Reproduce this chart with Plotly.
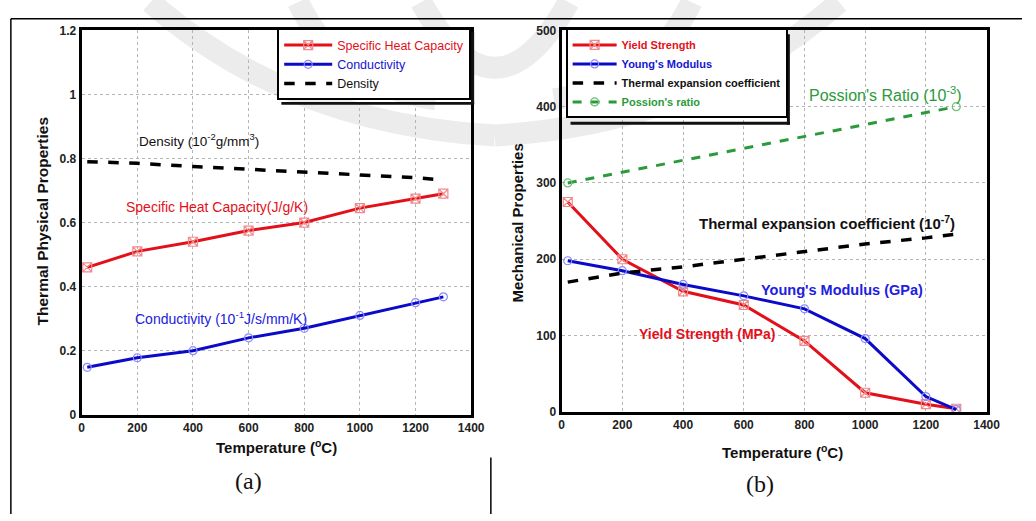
import plotly.graph_objects as go

W, H = 1036, 521

# ---- data (a) ----
temp_a = [20, 200, 400, 600, 800, 1000, 1200, 1300]
heat_capacity = [0.46, 0.51, 0.54, 0.575, 0.60, 0.645, 0.675, 0.69]
conductivity = [0.148, 0.178, 0.20, 0.24, 0.27, 0.31, 0.35, 0.368]
density = [0.79, 0.785, 0.775, 0.766, 0.758, 0.75, 0.74, 0.733]

# ---- data (b) ----
temp_b = [20, 200, 400, 600, 800, 1000, 1200, 1300]
yield_strength = [275, 200, 158, 140, 93, 25, 10, 4]
youngs_modulus = [198, 185, 167, 152, 135, 96, 20, 3]
thermal_exp = [170, 182, 190, 200, 210, 220, 228, 233]
poisson_temp = [20, 1300]
poisson_ratio = [300, 400]

x_ticks = [0, 200, 400, 600, 800, 1000, 1200, 1400]

RED = "#e3101a"
BLUE = "#0a0ac8"
GREEN = "#2a9a3a"
FONT = "Liberation Sans, Arial"


def px(x):
    return x / W


def py(y):
    return 1 - y / H


fig = go.Figure()

# (a)
fig.add_trace(go.Scatter(x=temp_a, y=heat_capacity, mode="lines+markers",
                         name="<span style='color:#e3101a'>Specific Heat Capacity</span>",
                         line=dict(color=RED, width=3),
                         marker=dict(symbol="square-x-open", size=9, color="#f28a8a", line=dict(width=1.2)),
                         xaxis="x", yaxis="y", legend="legend"))
fig.add_trace(go.Scatter(x=temp_a, y=conductivity, mode="lines+markers",
                         name="<span style='color:#1515d0'>Conductivity</span>",
                         line=dict(color=BLUE, width=3),
                         marker=dict(symbol="circle-open", size=8, color="#8a8aff", line=dict(width=1.2)),
                         xaxis="x", yaxis="y", legend="legend"))
fig.add_trace(go.Scatter(x=temp_a, y=density, mode="lines",
                         name="<span style='color:#111'>Density</span>",
                         line=dict(color="black", width=3.5, dash="dash"),
                         xaxis="x", yaxis="y", legend="legend"))

# (b)
fig.add_trace(go.Scatter(x=temp_b, y=yield_strength, mode="lines+markers",
                         name="<span style='color:#e3101a'><b>Yield Strength</b></span>",
                         line=dict(color=RED, width=3),
                         marker=dict(symbol="square-x-open", size=9, color="#f28a8a", line=dict(width=1.2)),
                         xaxis="x2", yaxis="y2", legend="legend2"))
fig.add_trace(go.Scatter(x=temp_b, y=youngs_modulus, mode="lines+markers",
                         name="<span style='color:#1515d0'><b>Young's Modulus</b></span>",
                         line=dict(color=BLUE, width=3),
                         marker=dict(symbol="circle-open", size=8, color="#8a8aff", line=dict(width=1.2)),
                         xaxis="x2", yaxis="y2", legend="legend2"))
fig.add_trace(go.Scatter(x=temp_b, y=thermal_exp, mode="lines",
                         name="<span style='color:#111'><b>Thermal expansion coefficient</b></span>",
                         line=dict(color="black", width=3.5, dash="dash"),
                         xaxis="x2", yaxis="y2", legend="legend2"))
fig.add_trace(go.Scatter(x=poisson_temp, y=poisson_ratio, mode="lines+markers",
                         name="<span style='color:#2a9a3a'><b>Possion's ratio</b></span>",
                         line=dict(color=GREEN, width=3, dash="dash"),
                         marker=dict(symbol="circle-open", size=8, color="#6cc07a", line=dict(width=1.2)),
                         xaxis="x2", yaxis="y2", legend="legend2"))

axis_common = dict(showline=True, linecolor="black", linewidth=3, mirror=True,
                   showgrid=True, gridcolor="#b5b5b5", griddash="dot", gridwidth=1,
                   zeroline=False, ticks="",
                   tickfont=dict(family=FONT, size=12, color="#222", weight="bold"))

fig.update_layout(
    width=W, height=H, margin=dict(l=0, r=0, t=0, b=0),
    paper_bgcolor="white", plot_bgcolor="white",
    font=dict(family=FONT, color="#222"),
    xaxis=dict(domain=[px(80), px(476)], range=[0, 1400], tickvals=x_ticks, anchor="y", **axis_common),
    yaxis=dict(domain=[py(419), py(24)], range=[0, 1.2], dtick=0.2, anchor="x", **axis_common),
    xaxis2=dict(domain=[px(568), px(1000)], range=[0, 1400], tickvals=x_ticks, anchor="y2", **axis_common),
    yaxis2=dict(domain=[py(416), py(24)], range=[0, 500], dtick=100, anchor="x2", **axis_common),
    legend=dict(x=px(476), y=py(22), xanchor="right", yanchor="top",
                bgcolor="white", bordercolor="black", borderwidth=2,
                font=dict(family=FONT, size=12.5), tracegroupgap=0, itemwidth=48,
                traceorder="normal"),
    legend2=dict(x=px(572), y=py(22), xanchor="left", yanchor="top",
                 bgcolor="white", bordercolor="black", borderwidth=2,
                 font=dict(family=FONT, size=11), tracegroupgap=0, itemwidth=44,
                 traceorder="normal"),
    showlegend=True,
)

ann = []


def add_text(x, y, text, size=12, color="#111", angle=0, family=FONT, xanchor="center"):
    ann.append(dict(x=px(x), y=py(y), xref="paper", yref="paper", text=text, showarrow=False,
                    font=dict(family=family, size=size, color=color), textangle=angle,
                    xanchor=xanchor, yanchor="middle"))


add_text(199, 137, "Density (10<sup>-2</sup>g/mm<sup>3</sup>)", 13.5)
add_text(218, 206, "Specific Heat Capacity(J/g/K)", 14, RED)
add_text(222, 320, "Conductivity (10<sup>-1</sup>J/s/mm/K)", 14, "#2020e0")
add_text(40, 220, "<b>Thermal Physical Properties</b>", 15.5, angle=-90)
add_text(278, 452, "<b>Temperature (<sup>o</sup>C)</b>", 15)
add_text(250, 487, "(a)", 24, "#111", family="Liberation Serif, DejaVu Serif")

add_text(897, 89, "Possion's Ratio (10<sup>-3</sup>)", 16, GREEN)
add_text(838, 221, "<b>Thermal expansion coefficient (10<sup>-7</sup>)</b>", 15)
add_text(853, 291, "<b>Young's Modulus (GPa)</b>", 14.5, "#2020e0")
add_text(716, 336, "<b>Yield Strength (MPa)</b>", 14, RED)
add_text(523, 222, "<b>Mechanical Properties</b>", 15, angle=-90)
add_text(792, 457, "<b>Temperature (<sup>o</sup>C)</b>", 15)
add_text(770, 490, "(b)", 24, "#111", family="Liberation Serif, DejaVu Serif")

fig.update_layout(annotations=ann)

shapes = []
# watermark (light gray logo arcs)
wm = dict(type="path", xref="paper", yref="paper", layer="below",
          line=dict(color="#ececec", width=22))


def q(x0, y0, cx, cy, x1, y1):
    return "M {} {} Q {} {} {} {}".format(px(x0), py(y0), px(cx), py(cy), px(x1), py(y1))


for path in [
    q(150, -5, 290, 120, 500, 132), q(850, -5, 710, 120, 500, 132),
    q(300, -5, 340, 80, 440, 95), q(700, -5, 660, 80, 560, 95),
    q(425, -5, 500, 130, 575, -5),
]:
    shapes.append(dict(wm, path=path))

line = dict(type="line", xref="paper", yref="paper", line=dict(color="black", width=1.5))
shapes.append(dict(line, x0=px(8), x1=1, y0=py(12), y1=py(12)))
shapes.append(dict(line, x0=px(8), x1=px(8), y0=py(12), y1=0))
shapes.append(dict(line, x0=px(496), x1=px(496), y0=py(463), y1=0))

# legend drop shadows
shadow = dict(type="rect", xref="paper", yref="paper", layer="above",
              fillcolor="#111", line=dict(width=0))
shapes.append(dict(shadow, x0=px(476), x1=px(479), y0=py(26), y1=py(100)))
shapes.append(dict(shadow, x0=px(283), x1=px(479), y0=py(97.5), y1=py(100.5)))
shapes.append(dict(shadow, x0=px(797), x1=px(800), y0=py(28), y1=py(121)))
shapes.append(dict(shadow, x0=px(577), x1=px(800), y0=py(118), y1=py(121)))
fig.update_layout(shapes=shapes)

fig.write_html("out.html", config={"displayModeBar": False},
               post_script="document.body.style.margin='0';document.body.style.overflow='hidden';"
                           "document.documentElement.style.overflow='hidden';")
